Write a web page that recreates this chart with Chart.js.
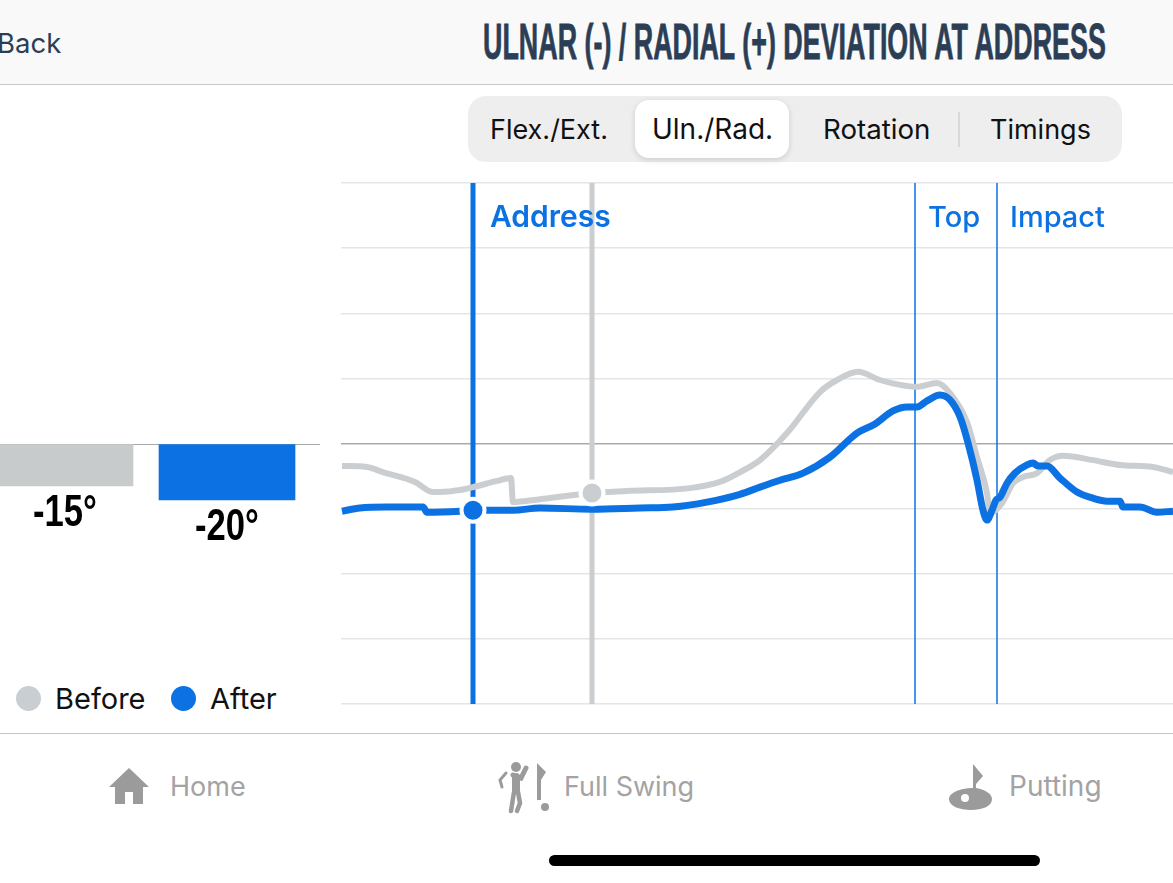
<!DOCTYPE html>
<html>
<head>
<meta charset="utf-8">
<title>Ulnar / Radial Deviation at Address</title>
<script src="https://cdn.jsdelivr.net/npm/chart.js@4"></script>
<style>
  html, body { margin: 0; padding: 0; background: #fff; }
  body { width: 1173px; height: 883px; position: relative; overflow: hidden; font-family: Inter, Roboto, sans-serif; }
  .abs { position: absolute; white-space: nowrap; }
  #header { left: 0; top: 0; width: 1173px; height: 84px; background: #f9f9f9; border-bottom: 1px solid #c8c9cb; }
  #back { left: -3px; top: 26px; font-size: 27.5px; color: #2c3e55; }
  #title { left: 483px; top: 13px; font: bold 50px "Liberation Sans", sans-serif; color: #2c3e55; -webkit-text-stroke: 0.8px #2c3e55; transform-origin: 0 0; transform: scaleX(0.5375); }
  #seg { left: 468px; top: 96px; width: 654px; height: 66px; background: #eeeeee; border-radius: 18px; }
  #selected { left: 635px; top: 100px; width: 154px; height: 58px; background: #fff; border-radius: 14px; box-shadow: 0 2px 6px rgba(0,0,0,.14); }
  #sep { left: 958px; top: 112px; width: 2px; height: 35px; background: #d9d9d9; }
  .seglabel { top: 113px; font-size: 27px; color: #111; }
  #barChart { position: absolute; left: -16px; top: 430px; }
  #lineChart { position: absolute; left: 341px; top: 181px; }
  .dot { width: 25px; height: 25px; border-radius: 50%; top: 686px; }
  .legend { top: 681px; font-size: 29px; color: #111; }
  #footer { left: 0; top: 733px; width: 1173px; height: 1px; background: #c4c4c4; }
  .nav { top: 770px; font-size: 27px; color: #a3a3a3; }
  #homebar { left: 549px; top: 855px; width: 491px; height: 11px; background: #000; border-radius: 6px; }
</style>
</head>
<body>
<div class="abs" id="header"></div>
<div class="abs" id="back">Back</div>
<div class="abs" id="title">ULNAR (-) / RADIAL (+) DEVIATION AT ADDRESS</div>

<div class="abs" id="seg"></div>
<div class="abs" id="selected"></div>
<div class="abs" id="sep"></div>
<div class="abs seglabel" style="left:490px">Flex./Ext.</div>
<div class="abs seglabel" style="left:652px;font-size:28px;top:112px">Uln./Rad.</div>
<div class="abs seglabel" style="left:823px;font-size:27.7px;top:112px">Rotation</div>
<div class="abs seglabel" style="left:990px">Timings</div>

<canvas id="barChart" width="336" height="130"></canvas>
<canvas id="lineChart" width="832" height="525"></canvas>

<div class="abs dot" style="left:16px;background:#c8ced1"></div>
<div class="abs legend" style="left:55px">Before</div>
<div class="abs dot" style="left:171px;background:#0c72e3"></div>
<div class="abs legend" style="left:210px">After</div>

<div class="abs" id="footer"></div>
<svg class="abs" style="left:108px;top:767px" width="42" height="38" viewBox="0 0 42 38">
  <path fill="#9b9b9b" d="M21 1 L41 20 L35 20 L35 37 L25 37 L25 25 L17 25 L17 37 L7 37 L7 20 L1 20 Z"/>
</svg>
<div class="abs nav" style="left:170px">Home</div>
<svg class="abs" style="left:497px;top:760px" width="56" height="54" viewBox="0 0 56 54">
  <g fill="#9b9b9b" stroke="#9b9b9b" stroke-linecap="round" fill-opacity="1">
    <circle cx="19" cy="7" r="5" stroke="none"/>
    <path fill="none" stroke-width="3" d="M5 27 L3 20 L9 13"/>
    <path fill="none" stroke-width="5" d="M29 8 L24 18 L16 15"/>
    <path fill="none" stroke-width="8" d="M19 17 L19 30"/>
    <path fill="none" stroke-width="4.5" d="M17 32 L14 51 M21 32 L23 43 L20 51"/>
    <path stroke="none" d="M40 3 L49 12 L44 20 L44 40 L40 40 Z"/>
    <circle cx="48" cy="47" r="4" stroke="none"/>
  </g>
</svg>
<div class="abs nav" style="left:564px">Full Swing</div>
<svg class="abs" style="left:948px;top:763px" width="46" height="48" viewBox="0 0 46 48">
  <path fill="#9b9b9b" d="M25 1 L35 13 L28 21 L28 25 C38 27 44 31 44 36 C44 43 35 47 23 47 C11 47 1 43 1 36 C1 30 12 25 25 25 Z"/>
  <ellipse cx="17" cy="35" rx="4" ry="4" fill="#fff"/>
</svg>
<div class="abs nav" style="left:1009px;font-size:28px;top:769px">Putting</div>
<div class="abs" id="homebar"></div>

<script>
// bar values, degrees
const barLabels = ["Before", "After"];
const barValues = [-15, -20];
const barColors = ["#c8cbcb", "#0c72e3"];

// swing curves, frame number and degrees
const beforeFrames = [1, 26, 42, 74, 92, 99, 119, 132, 156, 170, 172, 199, 251, 286, 349, 379, 399, 419, 446, 479, 496, 517, 539, 559, 576, 596, 609, 626, 636, 646, 649, 661, 672, 682, 696, 709, 722, 752, 779, 812, 832];
const beforeDegrees = [-6.9, -7.2, -8.8, -11.8, -14.9, -14.9, -14.3, -13.4, -11.5, -10.6, -18, -17.1, -15.2, -14.6, -13.7, -11.8, -8.8, -5.1, 3.2, 15.8, 19.5, 22, 19.5, 18, 17.4, 18.6, 15.5, 6.6, -4.2, -15.2, -21.4, -18.3, -12.2, -10.3, -9.1, -5.1, -3.8, -5.1, -6.6, -7.2, -8.8];

const afterFrames = [1, 19, 46, 82, 86, 119, 132, 172, 199, 251, 299, 332, 366, 399, 419, 439, 462, 489, 516, 534, 552, 566, 576, 586, 599, 609, 619, 627, 636, 642, 646, 651, 655, 659, 666, 674, 686, 692, 697, 706, 719, 736, 752, 766, 779, 782, 799, 816, 832];
const afterDegrees = [-20.8, -19.8, -19.5, -19.5, -21.1, -20.8, -20.5, -20.5, -19.8, -20.2, -19.8, -19.5, -18, -15.6, -13.4, -11.3, -9.1, -4.2, 3.2, 6, 10, 11.2, 11.2, 13.1, 14.9, 13.4, 8.2, 0.2, -11.2, -20.5, -23.5, -20.5, -17.4, -16.5, -12.2, -9.1, -6.6, -6, -6.9, -6.9, -10.6, -14.9, -16.8, -17.7, -17.7, -19.5, -19.5, -21.1, -20.8];

// swing events
const eventNames = ["Address", "Top", "Impact"];
const eventFrames = [132, 574, 656];
const beforeAddressFrame = 251;
const beforeAddressDegrees = -15.2;
const afterAddressDegrees = -20.5;

const BLUE = "#0c72e3";
const GREY = "#cbced1";

function pairs(xs, ys) {
    return xs.map((x, i) => ({ x: x, y: ys[i] }));
}

function eventLine(frame, color, width) {
    return {
        data: [{ x: frame, y: -80 }, { x: frame, y: 80 }],
        borderColor: color,
        borderWidth: width,
        pointRadius: 0,
        order: 5
    };
}

function zeroGrid(ctx) {
    return ctx.tick.value === 0 ? "#a9a9a9" : "#e4e5e7";
}

// Chart: before / after bars
new Chart(document.getElementById("barChart"), {
    type: "bar",
    data: {
        datasets: [{
            data: pairs([0, 1], barValues),
            backgroundColor: barColors,
            barThickness: 136
        }]
    },
    options: {
        responsive: false,
        animation: false,
        plugins: { legend: { display: false }, tooltip: { enabled: false } },
        layout: { padding: 0, autoPadding: false },
        scales: {
            x: { type: "linear", min: -0.5, max: 1.574, offset: false, display: false },
            y: {
                min: -41.4, max: 5,
                afterFit: s => { s.width = 0; },
                border: { display: false },
                ticks: { display: false, stepSize: 5 },
                grid: {
                    drawTicks: false,
                    color: ctx => ctx.tick.value === 0 ? "#a9a9a9" : "rgba(0,0,0,0)"
                }
            }
        }
    },
    plugins: [{
        id: "barValueLabels",
        afterDatasetsDraw(chart) {
            const c = chart.ctx;
            const xs = chart.scales.x, ys = chart.scales.y;
            c.save();
            c.fillStyle = "#000";
            c.textAlign = "center";
            c.textBaseline = "alphabetic";
            c.font = 'bold 45px "Liberation Sans"';
            barValues.forEach((v, i) => {
                c.save();
                c.translate(xs.getPixelForValue(i), ys.getPixelForValue(v) + 40);
                c.scale(0.77, 1);
                c.fillText(v + "°", 0, 0);
                c.restore();
            });
            c.restore();
        }
    }]
});

// Chart: wrist angle through the swing
new Chart(document.getElementById("lineChart"), {
    type: "line",
    data: {
        datasets: [
            eventLine(eventFrames[0], BLUE, 5),
            eventLine(beforeAddressFrame, GREY, 5),
            eventLine(eventFrames[1], BLUE, 1.5),
            eventLine(eventFrames[2], BLUE, 1.5),
            {
                label: "Before",
                data: pairs(beforeFrames, beforeDegrees),
                borderColor: GREY,
                borderWidth: 6,
                pointRadius: 0,
                cubicInterpolationMode: "monotone",
                order: 3
            },
            {
                label: "After",
                data: pairs(afterFrames, afterDegrees),
                borderColor: BLUE,
                borderWidth: 7,
                pointRadius: 0,
                cubicInterpolationMode: "monotone",
                order: 2
            },
            {
                data: [{ x: beforeAddressFrame, y: beforeAddressDegrees }],
                pointRadius: 11.5,
                pointBorderWidth: 4,
                pointBackgroundColor: GREY,
                pointBorderColor: "#fff",
                showLine: false,
                order: 1
            },
            {
                data: [{ x: eventFrames[0], y: afterAddressDegrees }],
                pointRadius: 11.5,
                pointBorderWidth: 4,
                pointBackgroundColor: BLUE,
                pointBorderColor: "#fff",
                showLine: false,
                order: 0
            }
        ]
    },
    options: {
        responsive: false,
        animation: false,
        plugins: { legend: { display: false }, tooltip: { enabled: false } },
        layout: { padding: { top: 2, bottom: 2 }, autoPadding: false },
        scales: {
            x: { type: "linear", min: 0, max: 832, display: false },
            y: {
                min: -80, max: 80,
                afterFit: s => { s.width = 0; },
                border: { display: false },
                ticks: { display: false, stepSize: 20 },
                grid: { drawTicks: false, color: zeroGrid, lineWidth: 1.5 }
            }
        }
    },
    plugins: [{
        id: "eventLabels",
        afterDatasetsDraw(chart) {
            const c = chart.ctx;
            c.save();
            c.fillStyle = BLUE;
            c.textBaseline = "middle";
            eventNames.forEach((name, i) => {
                c.font = (i === 0 ? "600 30px " : "500 29px ") + "Inter";
                const gap = i === 0 ? 17 : 13;
                c.fillText(name, chart.scales.x.getPixelForValue(eventFrames[i]) + gap, 37);
            });
            c.restore();
        }
    }]
});
</script>
</body>
</html>
